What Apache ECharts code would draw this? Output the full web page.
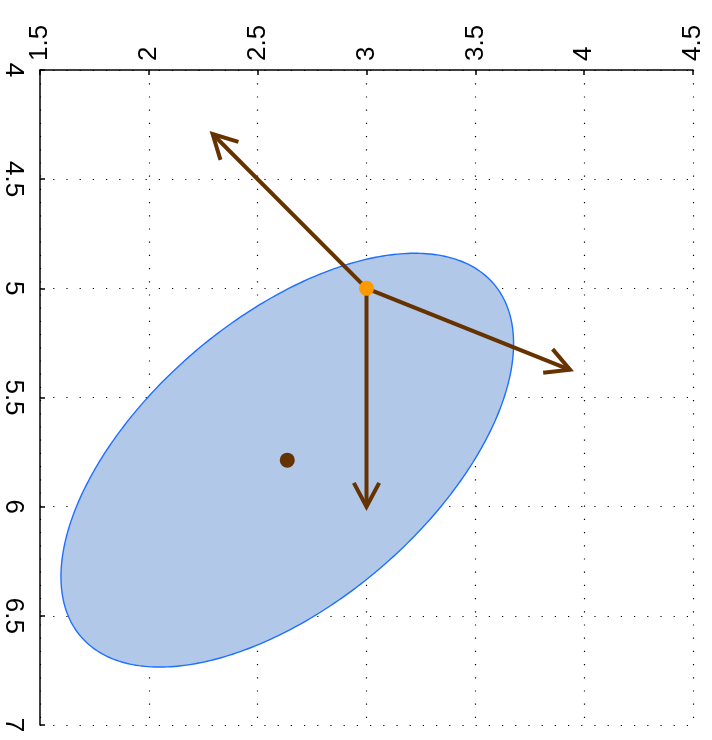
<!DOCTYPE html>
<html>
<head>
<meta charset="utf-8">
<script src="https://cdn.jsdelivr.net/npm/echarts@6/dist/echarts.min.js"></script>
<style>
html,body{margin:0;padding:0;background:#fff;}
#chart{width:712px;height:740px;}
</style>
</head>
<body>
<div id="chart"></div>
<script>
// ---- data ----
var xTicks = [1.5, 2, 2.5, 3, 3.5, 4, 4.5];
var yTicks = [4, 4.5, 5, 5.5, 6, 6.5, 7];
var ellipseCenter = [2.636, 5.787];
// covariance-like matrix [[a, c], [c, b]] describing the ellipse
var ellipseCov = [[1.081, -0.555], [-0.555, 0.898]];
var origin = [3, 5];
var arrowTips = [[3, 6], [2.293, 4.293], [3.935, 5.373]];
var meanPoint = [2.636, 5.787];

var chart = echarts.init(document.getElementById('chart'));

function ellipseRender(params, api) {
  var a = ellipseCov[0][0], c = ellipseCov[0][1], b = ellipseCov[1][1];
  var l11 = Math.sqrt(a), l21 = c / l11, l22 = Math.sqrt(b - l21 * l21);
  var pts = [];
  for (var i = 0; i < 360; i++) {
    var t = i * Math.PI / 180;
    var u = Math.cos(t), v = Math.sin(t);
    pts.push(api.coord([ellipseCenter[0] + l11 * u, ellipseCenter[1] + l21 * u + l22 * v]));
  }
  return {
    type: 'polygon',
    shape: { points: pts },
    style: { fill: '#b1c8e8', stroke: '#1f6fff', lineWidth: 1.4 }
  };
}

function arrowRender(params, api) {
  var p0 = api.coord([api.value(0), api.value(1)]);
  var p1 = api.coord([api.value(2), api.value(3)]);
  var ang = Math.atan2(p1[1] - p0[1], p1[0] - p0[0]);
  var len = 27, half = 28 * Math.PI / 180;
  var h1 = [p1[0] - len * Math.cos(ang - half), p1[1] - len * Math.sin(ang - half)];
  var h2 = [p1[0] - len * Math.cos(ang + half), p1[1] - len * Math.sin(ang + half)];
  var st = { stroke: '#663300', lineWidth: 4, fill: null, lineJoin: 'miter' };
  return {
    type: 'group',
    children: [
      { type: 'line', shape: { x1: p0[0], y1: p0[1], x2: p1[0], y2: p1[1] }, style: st },
      { type: 'polyline', shape: { points: [h1, p1, h2] }, style: st }
    ]
  };
}

var arrowData = arrowTips.map(function (t) { return [origin[0], origin[1], t[0], t[1]]; });

var labelStyle = { color: '#000', fontFamily: 'Liberation Sans, Arial, sans-serif', fontSize: 26 };

chart.setOption({
  animation: false,
  backgroundColor: '#fff',
  grid: { left: 39, top: 70, right: 19, bottom: 15, containLabel: false },
  xAxis: {
    type: 'value', position: 'top', min: xTicks[0], max: xTicks[xTicks.length - 1], interval: 0.5,
    axisLine: { show: true, onZero: false, lineStyle: { color: '#000', width: 1.5 } },
    axisTick: { show: true, inside: true, length: 5, lineStyle: { color: '#000', width: 1.5 } },
    axisLabel: Object.assign({ rotate: -90, margin: 9 }, labelStyle),
    splitLine: { show: true, lineStyle: { color: '#000', width: 1.2, type: [1.2, 12] } }
  },
  yAxis: {
    type: 'value', inverse: true, min: yTicks[0], max: yTicks[yTicks.length - 1], interval: 0.5,
    axisLine: { show: true, onZero: false, lineStyle: { color: '#000', width: 1.5 } },
    axisTick: { show: true, inside: true, length: 5, lineStyle: { color: '#000', width: 1.5 } },
    axisLabel: Object.assign({ rotate: -90, margin: 14 }, labelStyle),
    splitLine: { show: true, lineStyle: { color: '#000', width: 1.2, type: [1.2, 12] } }
  },
  series: [
    { type: 'custom', renderItem: ellipseRender, data: [ellipseCenter], z: 1, silent: true },
    { type: 'custom', renderItem: arrowRender, data: arrowData, z: 2, silent: true },
    { type: 'scatter', data: [meanPoint], symbolSize: 15, itemStyle: { color: '#663300', opacity: 1 }, z: 3 },
    { type: 'scatter', data: [origin], symbolSize: 15, itemStyle: { color: '#ff9900', opacity: 1 }, z: 4 }
  ]
});
</script>
</body>
</html>
